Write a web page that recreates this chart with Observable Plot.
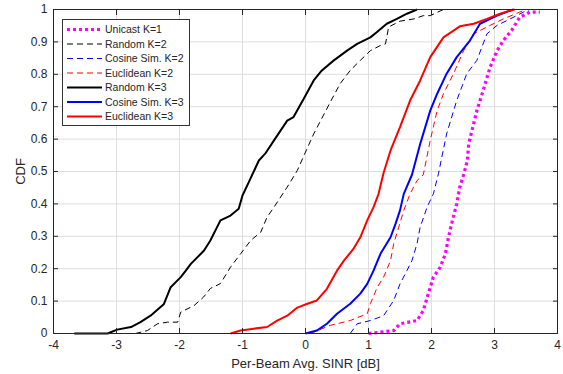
<!DOCTYPE html>
<html><head><meta charset="utf-8">
<script src="https://cdn.jsdelivr.net/npm/d3@7"></script>
<script src="https://cdn.jsdelivr.net/npm/@observablehq/plot@0.6"></script>
<style>
body{margin:0;background:#fff;}
#wrap{position:relative;width:563px;height:374px;font-family:"Liberation Sans",Arial,sans-serif;}
#legend{position:absolute;left:62px;top:19px;width:128px;height:107px;border:1px solid #333;background:#fff;box-sizing:border-box;}
</style></head><body><div id="wrap"></div>
<script>
const xTicks = [-4,-3,-2,-1,0,1,2,3,4];
const yTicks = [0,0.1,0.2,0.3,0.4,0.5,0.6,0.7,0.8,0.9,1];
const xLabel = "Per-Beam Avg. SINR [dB]";
const yLabel = "CDF";
const seriesNames = ["Unicast K=1","Random K=2","Cosine Sim. K=2","Euclidean K=2","Random K=3","Cosine Sim. K=3","Euclidean K=3"];

const unicastK1X = [1.0,1.40,1.50,1.77,1.87,1.95,2.03,2.14,2.22,2.27,2.32,2.40,2.45,2.51,2.57,2.59,2.72,2.82,2.93,3.04,3.14,3.27,3.40,3.56,3.72];
const unicastK1Y = [0,0.009,0.03,0.04,0.071,0.123,0.174,0.205,0.246,0.297,0.339,0.40,0.452,0.49,0.534,0.585,0.688,0.75,0.822,0.873,0.904,0.935,0.976,0.992,0.992];

const randomK2X = [-2.70,-2.51,-2.35,-2.19,-2.03,-1.98,-1.77,-1.62,-1.51,-1.35,-1.19,-1.03,-0.87,-0.71,-0.61,-0.50,-0.29,-0.13,0.0,0.13,0.24,0.42,0.55,0.71,0.87,1.03,1.19,1.27,1.32,1.50,1.72,1.87,1.98,2.19];
const randomK2Y = [0,0.009,0.03,0.035,0.035,0.066,0.086,0.112,0.139,0.154,0.205,0.246,0.287,0.313,0.359,0.39,0.452,0.503,0.56,0.616,0.657,0.724,0.771,0.812,0.843,0.873,0.889,0.894,0.946,0.964,0.971,0.981,0.981,1.0];

const cosineK2X = [0.71,0.82,1.03,1.24,1.40,1.50,1.61,1.69,1.77,1.82,1.93,2.03,2.11,2.24,2.40,2.56,2.72,2.88,3.04,3.25,3.46,3.56];
const cosineK2Y = [0,0.03,0.04,0.055,0.102,0.153,0.194,0.225,0.277,0.328,0.39,0.431,0.493,0.616,0.719,0.802,0.843,0.925,0.951,0.971,0.992,1.0];

const euclidK2X = [0.08,0.39,0.71,0.98,1.03,1.14,1.24,1.35,1.40,1.48,1.56,1.66,1.77,1.87,1.98,2.09,2.19,2.35,2.51,2.67,2.93,3.14,3.40,3.51];
const euclidK2Y = [0,0.025,0.04,0.061,0.092,0.143,0.174,0.225,0.277,0.328,0.38,0.431,0.472,0.49,0.596,0.688,0.74,0.802,0.873,0.925,0.951,0.971,0.992,1.0];

const randomK3X = [-3.67,-3.14,-2.99,-2.77,-2.62,-2.46,-2.25,-2.14,-1.98,-1.90,-1.82,-1.61,-1.51,-1.35,-1.19,-1.06,-1.00,-0.90,-0.79,-0.74,-0.64,-0.50,-0.29,-0.19,-0.03,0.13,0.26,0.45,0.66,0.82,1.03,1.13,1.29,1.45,1.61,1.77];
const randomK3Y = [0,0,0.012,0.02,0.035,0.055,0.09,0.143,0.174,0.194,0.215,0.256,0.287,0.349,0.364,0.385,0.426,0.467,0.513,0.534,0.555,0.596,0.657,0.668,0.724,0.781,0.812,0.843,0.873,0.894,0.914,0.93,0.956,0.971,0.987,1.0];

const cosineK3X = [0.0,0.18,0.34,0.50,0.71,0.87,0.98,1.08,1.19,1.35,1.43,1.50,1.56,1.69,1.82,1.98,2.09,2.24,2.40,2.61,2.77,3.04,3.30];
const cosineK3Y = [0,0.009,0.03,0.061,0.092,0.123,0.153,0.194,0.246,0.297,0.339,0.38,0.431,0.49,0.585,0.688,0.74,0.802,0.853,0.904,0.956,0.981,1.0];

const euclidK3X = [-1.19,-1.03,-0.82,-0.61,-0.45,-0.29,-0.13,0.03,0.18,0.34,0.50,0.61,0.76,0.87,0.98,1.08,1.16,1.24,1.35,1.50,1.66,1.82,1.98,2.19,2.45,2.67,2.88,3.09,3.25,3.32];
const euclidK3Y = [0,0.009,0.015,0.02,0.04,0.055,0.08,0.092,0.102,0.138,0.194,0.225,0.261,0.297,0.349,0.39,0.431,0.496,0.565,0.637,0.719,0.781,0.853,0.914,0.948,0.956,0.971,0.987,0.997,1.0];

const seriesX = [unicastK1X, randomK2X, cosineK2X, euclidK2X, randomK3X, cosineK3X, euclidK3X];
const seriesY = [unicastK1Y, randomK2Y, cosineK2Y, euclidK2Y, randomK3Y, cosineK3Y, euclidK3Y];

const styles = [
  {stroke:"#ff00ff", width:3.2, dash:"3,3"},
  {stroke:"#000000", width:1, dash:"6,4"},
  {stroke:"#0000ff", width:1, dash:"6,4"},
  {stroke:"#ff0000", width:1, dash:"6,4"},
  {stroke:"#000000", width:2, dash:null},
  {stroke:"#0000ff", width:2, dash:null},
  {stroke:"#ff0000", width:2, dash:null}
];

const lineMarks = seriesNames.map((name, i) => {
  const rows = seriesX[i].map((x, j) => ({x, y: seriesY[i][j]}));
  return Plot.line(rows, {x:"x", y:"y", stroke: styles[i].stroke, strokeWidth: styles[i].width,
    strokeDasharray: styles[i].dash || undefined, strokeLinejoin:"miter", strokeLinecap:"butt"});
});

const chart = Plot.plot({
  width: 563, height: 374,
  marginLeft: 53, marginRight: 6, marginTop: 9, marginBottom: 41,
  style: {fontFamily: '"Liberation Sans", Arial, sans-serif', fontSize: "12px", color: "#262626", background: "#fff"},
  x: {domain: [-4, 4]},
  y: {domain: [0, 1]},
  marks: [
    Plot.gridX(xTicks, {stroke: "#dedede", strokeOpacity: 1}),
    Plot.gridY(yTicks, {stroke: "#dedede", strokeOpacity: 1}),
    ...lineMarks,
    Plot.frame({stroke: "#262626", strokeWidth: 1}),
    Plot.axisX({ticks: xTicks, tickSize: -5, tickPadding: 12, label: null, tickFormat: d => String(d), fontSize: 12}),
    Plot.axisX({ticks: [], label: xLabel, labelAnchor: "center", labelArrow: "none", labelOffset: 34, fontSize: 13}),
    Plot.axisX({anchor: "top", ticks: xTicks, tickSize: -5, tickFormat: () => "", label: null}),
    Plot.axisY({ticks: yTicks, tickSize: -5, tickPadding: 11, label: null, tickFormat: d => String(d), fontSize: 12}),
    Plot.axisY({ticks: [], label: yLabel, labelAnchor: "center", labelArrow: "none", labelOffset: 38, fontSize: 13}),
    Plot.axisY({anchor: "right", ticks: yTicks, tickSize: -5, tickFormat: () => "", label: null})
  ]
});

const wrap = document.getElementById("wrap");
wrap.appendChild(chart);

// legend
const legend = document.createElement("div");
legend.id = "legend";
const ns = "http://www.w3.org/2000/svg";
const lsvg = document.createElementNS(ns, "svg");
lsvg.setAttribute("width", 126); lsvg.setAttribute("height", 105);
seriesNames.forEach((name, i) => {
  const cy = 9.5 + i * 14.5;
  const ln = document.createElementNS(ns, "line");
  ln.setAttribute("x1", 4); ln.setAttribute("x2", 39);
  ln.setAttribute("y1", cy); ln.setAttribute("y2", cy);
  ln.setAttribute("stroke", styles[i].stroke);
  ln.setAttribute("stroke-width", styles[i].width);
  if (styles[i].dash) ln.setAttribute("stroke-dasharray", styles[i].dash);
  lsvg.appendChild(ln);
  const tx = document.createElementNS(ns, "text");
  tx.setAttribute("x", 42); tx.setAttribute("y", cy);
  tx.setAttribute("dy", "0.35em");
  tx.setAttribute("font-size", "10.5px");
  tx.setAttribute("fill", "#262626");
  tx.setAttribute("font-family", '"Liberation Sans", Arial, sans-serif');
  tx.textContent = name;
  lsvg.appendChild(tx);
});
legend.appendChild(lsvg);
wrap.appendChild(legend);
</script>
</body></html>
